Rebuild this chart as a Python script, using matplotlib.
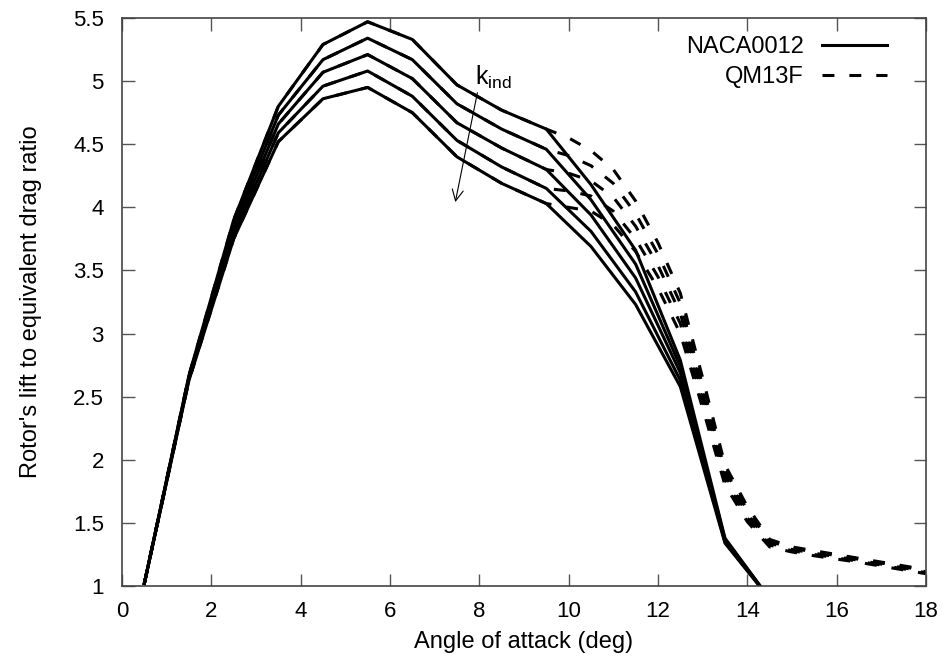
import matplotlib
matplotlib.use('Agg')
import matplotlib.pyplot as plt

plt.rcParams['font.family'] = ['Liberation Sans', 'DejaVu Sans']
plt.rcParams['mathtext.fontset'] = 'custom'
plt.rcParams['mathtext.rm'] = 'Liberation Sans'

# NACA0012 (solid), five k_ind values, top curve = smallest k_ind
x_naca = [0.5, 1.5, 2.5, 3.5, 4.5, 5.5, 6.5, 7.5, 8.5, 9.5, 10.5, 11.5, 12.5, 13.5, 14.5]
naca = [
    [1.02, 2.67, 3.90, 4.80, 5.29, 5.47, 5.33, 4.97, 4.77, 4.62, 4.18, 3.66, 2.79, 1.38, 0.90],
    [1.02, 2.66, 3.86, 4.73, 5.17, 5.34, 5.17, 4.82, 4.62, 4.46, 4.06, 3.55, 2.74, 1.37, 0.90],
    [1.02, 2.65, 3.82, 4.66, 5.07, 5.21, 5.02, 4.67, 4.47, 4.30, 3.94, 3.44, 2.69, 1.36, 0.90],
    [1.02, 2.64, 3.78, 4.59, 4.96, 5.08, 4.88, 4.53, 4.32, 4.15, 3.81, 3.33, 2.63, 1.35, 0.90],
    [1.02, 2.63, 3.75, 4.52, 4.86, 4.95, 4.75, 4.40, 4.19, 4.03, 3.69, 3.23, 2.58, 1.34, 0.90],
]

# QM13F (dashed): identical to NACA0012 up to 9.5 deg, then diverges
x_qm = [0.5, 1.5, 2.5, 3.5, 4.5, 5.5, 6.5, 7.5, 8.5, 9.5, 10.0, 10.5, 11.0, 11.5, 12.0,
        12.5, 13.0, 13.5, 14.0, 14.5, 15.0, 15.5, 16.0, 16.5, 17.0, 17.5, 18.0]
qm_tail = [
    [4.55, 4.45, 4.30, 4.05, 3.72, 3.32, 2.65, 1.96, 1.63, 1.370, 1.310, 1.280, 1.250, 1.220, 1.190, 1.160, 1.130],
    [4.41, 4.33, 4.19, 3.95, 3.63, 3.24, 2.59, 1.92, 1.60, 1.355, 1.300, 1.270, 1.241, 1.212, 1.182, 1.152, 1.122],
    [4.27, 4.21, 4.08, 3.85, 3.54, 3.16, 2.53, 1.88, 1.57, 1.340, 1.290, 1.260, 1.232, 1.204, 1.174, 1.144, 1.114],
    [4.13, 4.09, 3.97, 3.75, 3.45, 3.08, 2.47, 1.84, 1.54, 1.325, 1.280, 1.250, 1.223, 1.196, 1.166, 1.136, 1.106],
    [4.00, 3.97, 3.86, 3.65, 3.36, 3.00, 2.41, 1.80, 1.51, 1.310, 1.270, 1.240, 1.214, 1.188, 1.158, 1.128, 1.098],
]
qm = [n[:10] + t for n, t in zip(naca, qm_tail)]

fig = plt.figure(figsize=(9.47, 6.66), dpi=100)
ax = fig.add_axes([0.1288, 0.12, 0.849, 0.853])

for i, y in enumerate(qm):
    ax.plot(x_qm, y, color='black', lw=2.2, dashes=(3.9, 4.9),
            label='QM13F' if i == 0 else None)
for i, y in enumerate(naca):
    ax.plot(x_naca, y, color='black', lw=2.2,
            label='NACA0012' if i == 0 else None)

ax.set_xlim(0, 18)
ax.set_ylim(1, 5.5)
ax.set_xticks(range(0, 19, 2))
ax.set_yticks([1, 1.5, 2, 2.5, 3, 3.5, 4, 4.5, 5, 5.5])
ax.set_yticklabels(['1', '1.5', '2', '2.5', '3', '3.5', '4', '4.5', '5', '5.5'])
ax.tick_params(direction='in', length=9, width=1, color='#555555',
               top=True, right=True, labelsize=16)
ax.tick_params(axis='x', pad=11)
ax.tick_params(axis='y', pad=13)
for s in ax.spines.values():
    s.set_color('#444444')
    s.set_linewidth(1.2)

ax.set_xlabel('Angle of attack (deg)', fontsize=17, labelpad=6)
ax.set_ylabel("Rotor's lift to equivalent drag ratio", fontsize=17, labelpad=22)

ax.annotate('', xy=(7.45, 4.02), xytext=(7.97, 4.93),
            arrowprops=dict(arrowstyle='->', color='black', lw=0.8,
                            mutation_scale=20))
ax.text(7.9, 5.03, r'k$_{\mathrm{ind}}$', fontsize=18, ha='left', va='center')

handles, labels = ax.get_legend_handles_labels()
order = [labels.index('NACA0012'), labels.index('QM13F')]
ax.legend([handles[i] for i in order], [labels[i] for i in order],
          loc='upper right', bbox_to_anchor=(0.9515, 0.968), borderaxespad=0,
          borderpad=0, frameon=False, markerfirst=False, fontsize=17,
          handlelength=2.75, handletextpad=0.76, labelspacing=0.35)

fig.savefig('out.png', dpi=100)
